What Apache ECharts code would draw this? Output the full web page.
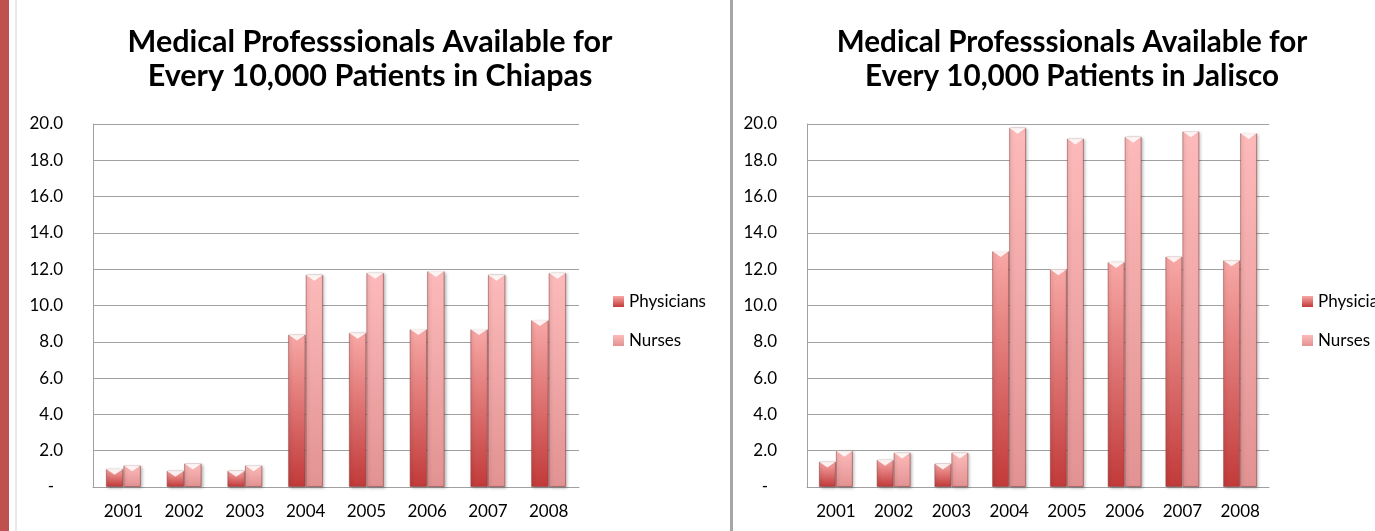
<!DOCTYPE html>
<html>
<head>
<meta charset="utf-8">
<title>Medical Professionals per 10,000 Patients</title>
<script src="https://cdn.jsdelivr.net/npm/echarts@6/dist/echarts.min.js"></script>
<style>
  html, body { margin: 0; padding: 0; background: #ffffff; }
  #chart { width: 1375px; height: 531px; }
</style>
</head>
<body>
<div id="chart"></div>
<script>
// Years on the category axis
const years = ['2001', '2002', '2003', '2004', '2005', '2006', '2007', '2008'];

// Chiapas, per 10,000 patients
const chiapasPhysicians = [1.0, 0.9, 0.9, 8.4, 8.5, 8.7, 8.7, 9.2];
const chiapasNurses     = [1.2, 1.3, 1.2, 11.7, 11.8, 11.9, 11.7, 11.8];

// Jalisco, per 10,000 patients
const jaliscoPhysicians = [1.4, 1.5, 1.3, 13.0, 12.0, 12.4, 12.7, 12.5];
const jaliscoNurses     = [2.0, 1.9, 1.9, 19.8, 19.2, 19.3, 19.6, 19.5];

// Value-axis tick labels, from 0 to 20 in steps of 2
const yTickLabels = ['-', '2.0', '4.0', '6.0', '8.0', '10.0', '12.0', '14.0', '16.0', '18.0', '20.0'];

const seriesNames = ['Physicians', 'Nurses'];
const titleLine1 = 'Medical Professsionals Available for';
const chiapasTitle = 'Every 10,000 Patients in Chiapas';
const jaliscoTitle = 'Every 10,000 Patients in Jalisco';

const FONT = 'Lato, "Open Sans", sans-serif';

function vGrad(top, bottom) {
  return new echarts.graphic.LinearGradient(0, 0, 0, 1, [
    { offset: 0, color: top },
    { offset: 1, color: bottom }
  ]);
}

const physicianFill = vGrad('#f8a8a6', '#c13a39');
const nurseFill = vGrad('#fdbaba', '#e29292');

const barStyle = (fill) => ({
  color: fill,
  borderColor: 'rgba(140, 60, 60, 0.55)',
  borderWidth: 1,
  shadowColor: 'rgba(0, 0, 0, 0.28)',
  shadowBlur: 3,
  shadowOffsetX: 1.5,
  shadowOffsetY: 1
});

// White bevel cap drawn at the top of each bar
const bevel = 'path://M0,0 L20,0 L10,7 Z';

function barPair(gridIdx, phys, nurse, width) {
  const common = { xAxisIndex: gridIdx, yAxisIndex: gridIdx, barWidth: width, barGap: '0%' };
  return [
    Object.assign({ type: 'bar', name: seriesNames[0], data: phys, itemStyle: barStyle(physicianFill) }, common),
    Object.assign({ type: 'bar', name: seriesNames[1], data: nurse, itemStyle: barStyle(nurseFill) }, common),
    Object.assign({
      type: 'pictorialBar', name: 'bevel-p', data: phys, symbol: bevel,
      symbolSize: ['100%', 6], symbolPosition: 'end', z: 5, silent: true,
      itemStyle: { color: 'rgba(255,255,255,0.85)' }
    }, common),
    Object.assign({
      type: 'pictorialBar', name: 'bevel-n', data: nurse, symbol: bevel,
      symbolSize: ['100%', 6], symbolPosition: 'end', z: 5, silent: true,
      itemStyle: { color: 'rgba(255,255,255,0.85)' }
    }, common)
  ];
}

function xAxis(gridIdx) {
  return {
    type: 'category', gridIndex: gridIdx, data: years,
    axisLine: { lineStyle: { color: '#a0a0a0', width: 1 } },
    axisTick: { show: false },
    axisLabel: { fontFamily: FONT, fontSize: 17, color: '#000', margin: 16 }
  };
}

function yAxis(gridIdx) {
  return {
    type: 'value', gridIndex: gridIdx, min: 0, max: 20, interval: 2,
    axisLine: { show: true, lineStyle: { color: '#a0a0a0', width: 1 } },
    axisTick: { show: false },
    splitLine: { lineStyle: { color: '#a0a0a0', width: 1 } },
    axisLabel: {
      fontFamily: FONT, fontSize: 17, color: '#000', margin: 30,
      formatter: (v) => {
        const label = yTickLabels[Math.round(v / 2)];
        return label === '-' ? '{dash|-}' : label;
      },
      rich: { dash: { fontFamily: FONT, fontSize: 17, color: '#000', padding: [0, 9, 0, 0] } }
    }
  };
}

function legend(left) {
  return {
    data: seriesNames, orient: 'vertical', left: left, top: 293, padding: 0,
    icon: 'rect', itemWidth: 11, itemHeight: 11, itemGap: 22, itemStyle: { borderWidth: 0 },
    textStyle: { fontFamily: FONT, fontSize: 17, color: '#000' }
  };
}

function title(text, centerX, size) {
  return {
    text: text, left: centerX, textAlign: 'center', top: 25, padding: 0,
    textStyle: { fontFamily: FONT, fontWeight: 'bold', fontSize: size, lineHeight: 34, color: '#000' }
  };
}

const chart = echarts.init(document.getElementById('chart'), null, { renderer: 'canvas' });

chart.setOption({
  backgroundColor: '#ffffff',
  animation: false,
  title: [
    title(titleLine1 + '\n' + chiapasTitle, 370, 30.5),
    title(titleLine1 + '\n' + jaliscoTitle, 1072, 29.6)
  ],
  legend: [legend(613), legend(1302)],
  grid: [
    { left: 93, top: 124, width: 486, height: 363 },
    { left: 807, top: 124, width: 462, height: 363 }
  ],
  xAxis: [xAxis(0), xAxis(1)],
  yAxis: [yAxis(0), yAxis(1)],
  series: barPair(0, chiapasPhysicians, chiapasNurses, 17.5)
    .concat(barPair(1, jaliscoPhysicians, jaliscoNurses, 17)),
  graphic: [
    { type: 'rect', left: 0, top: 0, shape: { width: 9, height: 531 }, style: { fill: '#c0504d' }, silent: true },
    { type: 'rect', left: 15, top: 0, shape: { width: 2, height: 531 }, style: { fill: '#e8e8e8' }, silent: true },
    { type: 'rect', left: 730, top: 0, shape: { width: 3, height: 531 }, style: { fill: '#a6a6a6' }, silent: true }
  ]
});
</script>
</body>
</html>
